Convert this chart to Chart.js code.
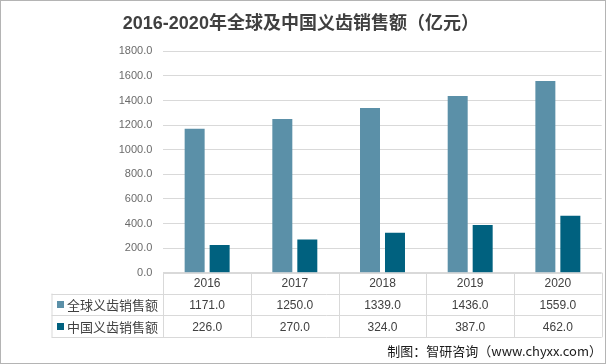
<!DOCTYPE html>
<html>
<head>
<meta charset="utf-8">
<script src="https://cdn.jsdelivr.net/npm/chart.js@4"></script>
<style>
  html, body { margin: 0; padding: 0; background: #fff; }
  #wrap { width: 606px; height: 364px; position: relative; }
</style>
</head>
<body>
<div id="wrap"><canvas id="chart" width="606" height="364"></canvas></div>
<script>
const years = ["2016", "2017", "2018", "2019", "2020"];
const globalSales = [1171.0, 1250.0, 1339.0, 1436.0, 1559.0];
const chinaSales = [226.0, 270.0, 324.0, 387.0, 462.0];
const seriesNames = ["全球义齿销售额", "中国义齿销售额"];
const seriesColors = ["#5b90a8", "#00617f"];

const FONT = '"Liberation Sans", "Noto Sans CJK SC", sans-serif';
const CJK = '"Noto Sans CJK SC", sans-serif';

// data table under the plot + outer frame + source note
const tablePlugin = {
  id: "dataTable",
  afterDraw(chart) {
    const ctx = chart.ctx;
    const area = chart.chartArea;
    const x = chart.scales.x;
    const half = (x.getPixelForValue(1) - x.getPixelForValue(0)) / 2;
    const tableLeft = 51.5;
    const rows = [area.bottom, 293.5, 315.2, 337.3];
    const colEdges = years.map((_, i) => x.getPixelForValue(i) - half);
    colEdges.push(x.getPixelForValue(years.length - 1) + half);

    ctx.save();
    ctx.strokeStyle = "#d9d9d9";
    ctx.lineWidth = 1;
    ctx.beginPath();
    // horizontal lines
    ctx.moveTo(colEdges[0], Math.round(rows[0]) + 0.5);
    ctx.lineTo(colEdges[colEdges.length - 1], Math.round(rows[0]) + 0.5);
    for (let r = 1; r < rows.length; r++) {
      ctx.moveTo(tableLeft, Math.round(rows[r]) + 0.5);
      ctx.lineTo(colEdges[colEdges.length - 1], Math.round(rows[r]) + 0.5);
    }
    // vertical lines
    colEdges.forEach((cx) => {
      ctx.moveTo(Math.round(cx) + 0.5, rows[0]);
      ctx.lineTo(Math.round(cx) + 0.5, rows[3]);
    });
    ctx.moveTo(tableLeft + 0.5, rows[1]);
    ctx.lineTo(tableLeft + 0.5, rows[3]);
    ctx.stroke();

    ctx.fillStyle = "#404040";
    ctx.textAlign = "center";
    ctx.textBaseline = "middle";
    ctx.font = "12px " + FONT;
    years.forEach((y, i) => {
      ctx.fillText(y, x.getPixelForValue(i), (rows[0] + rows[1]) / 2 + 1);
    });
    [globalSales, chinaSales].forEach((vals, s) => {
      const cy = (rows[s + 1] + rows[s + 2]) / 2 + 1;
      vals.forEach((v, i) => {
        ctx.fillText(v.toFixed(1), x.getPixelForValue(i), cy);
      });
      ctx.fillStyle = seriesColors[s];
      ctx.fillRect(57, Math.round(cy) - 4, 7, 7);
      ctx.fillStyle = "#404040";
      ctx.textAlign = "left";
      ctx.font = "13px " + CJK;
      ctx.fillText(seriesNames[s], 67, cy);
      ctx.textAlign = "center";
      ctx.font = "12px " + FONT;
    });

    // source note
    ctx.fillStyle = "#1a1a1a";
    ctx.textAlign = "right";
    ctx.textBaseline = "middle";
    ctx.font = "13px " + CJK;
    ctx.fillText("制图：智研咨询（www.chyxx.com）", 602, 351);

    // outer frame
    ctx.strokeStyle = "#b4b4b4";
    ctx.strokeRect(0.5, 0.5, chart.width - 1, chart.height - 1);
    ctx.restore();
  },
};

new Chart(document.getElementById("chart"), {
  type: "bar",
  data: {
    labels: years,
    datasets: [
      {
        label: seriesNames[0],
        data: globalSales,
        backgroundColor: seriesColors[0],
        categoryPercentage: 0.57,
        barPercentage: 0.8,
      },
      {
        label: seriesNames[1],
        data: chinaSales,
        backgroundColor: seriesColors[1],
        categoryPercentage: 0.57,
        barPercentage: 0.8,
      },
    ],
  },
  options: {
    responsive: false,
    animation: false,
    devicePixelRatio: 1,
    layout: { padding: { left: 0, right: 4.3, top: 0, bottom: 91.3 } },
    plugins: {
      legend: { display: false },
      tooltip: { enabled: false },
      title: {
        display: true,
        text: "2016-2020年全球及中国义齿销售额（亿元）",
        color: "#404040",
        font: { family: FONT, size: 18, weight: "bold", lineHeight: 1.2 },
        padding: { top: 13, bottom: 16.7 },
      },
    },
    scales: {
      x: { display: false },
      y: {
        min: 0,
        max: 1800,
        afterFit(scale) {
          scale.width = 163.3;
        },
        border: { display: false },
        grid: { color: "#d9d9d9", drawTicks: false },
        ticks: {
          stepSize: 200,
          padding: 11,
          color: "#6b6b6b",
          font: { family: FONT, size: 11 },
          callback: (v) => Number(v).toFixed(1),
        },
      },
    },
  },
  plugins: [tablePlugin],
});
</script>
</body>
</html>
